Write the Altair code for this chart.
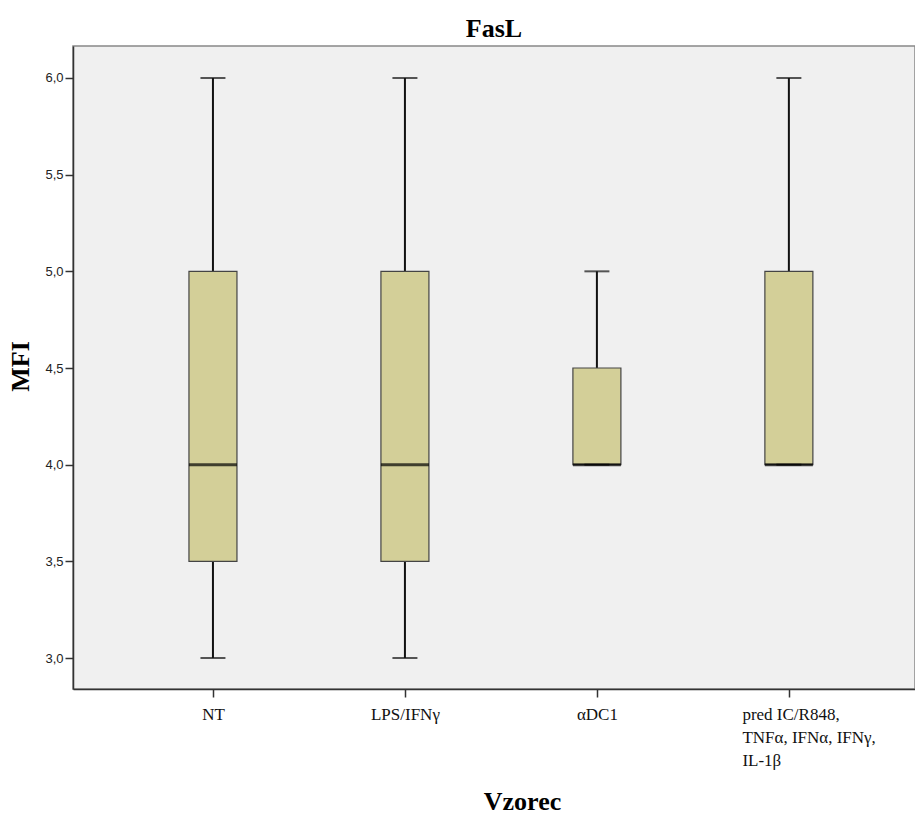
import altair as alt
import pandas as pd

categories = ["NT", "LPS/IFNγ", "αDC1", "pred IC/R848,|TNFα, IFNα, IFNγ,|IL-1β"]
minimum = [3.0, 3.0, 4.0, 4.0]
q1 = [3.5, 3.5, 4.0, 4.0]
median = [4.0, 4.0, 4.0, 4.0]
q3 = [5.0, 5.0, 4.5, 5.0]
maximum = [6.0, 6.0, 5.0, 6.0]
y_ticks = [3.0, 3.5, 4.0, 4.5, 5.0, 5.5, 6.0]

df = pd.DataFrame(dict(cat=categories, lo=minimum, q1=q1, med=median, q3=q3, hi=maximum))

W, H = 842, 643

xscale = alt.Scale(type="point", domain=categories, padding=0.693, align=0.526)
yscale = alt.Scale(domain=[2.8397, 6.1655], nice=False, zero=False)

xaxis = alt.Axis(
    title="Vzorec",
    titleFont="Liberation Serif", titleFontSize=26, titleFontWeight="bold", titleColor="#000",
    titleX=449, titleY=120, titleAlign="center", titleBaseline="alphabetic",
    labelFont="Liberation Serif", labelFontSize=17, labelColor="#111", labelAngle=0,
    labelPadding=9, labelLineHeight=23,
    labelExpr="split(datum.label, '|')",
    labelAlign={"condition": {"test": "indexof(datum.value, '|') >= 0", "value": "left"}, "value": "center"},
    labelOffset={"condition": {"test": "indexof(datum.value, '|') >= 0", "value": -47}, "value": 0},
    labelOverlap=False, labelBound=False, labelLimit=0,
    tickSize=8, tickColor="#333", tickWidth=1.5,
    domainColor="#333", domainWidth=1.5, grid=False,
)
yaxis = alt.Axis(
    title="MFI", values=y_ticks,
    labelExpr="replace(format(datum.value, '.1f'), '.', ',')",
    titleFont="Liberation Serif", titleFontSize=26, titleFontWeight="bold", titleColor="#000",
    titleX=-53, titleY=320, titleAngle=-90, titleAlign="center", titleBaseline="middle",
    labelFont="Liberation Sans", labelFontSize=13, labelColor="#222", labelPadding=2,
    tickSize=8, tickColor="#333", tickWidth=1.5,
    domainColor="#333", domainWidth=1.5, grid=False,
)

x_enc = alt.X("cat:N", scale=xscale, axis=xaxis, sort=categories)

def y_enc(field):
    return alt.Y(f"{field}:Q", scale=yscale, axis=yaxis)

base = alt.Chart(df)

whisker = base.mark_rule(color="#111", strokeWidth=2).encode(
    x=x_enc, y=y_enc("lo"), y2="hi:Q"
)
box = base.mark_bar(size=48, fill="#D3CF98", stroke="#444", strokeWidth=1.2).encode(
    x=x_enc, y=y_enc("q1"), y2="q3:Q"
)
cap_lo = base.mark_tick(size=25, thickness=2, color="#111").encode(x=x_enc, y=y_enc("lo"))
cap_hi = base.mark_tick(size=25, thickness=2, color="#111").encode(x=x_enc, y=y_enc("hi"))
med = base.mark_tick(size=48, thickness=3, color="#000").encode(x=x_enc, y=y_enc("med"))

chart = (
    alt.layer(whisker, box, cap_lo, cap_hi, med)
    .properties(
        width=W, height=H,
        title=alt.TitleParams("FasL", font="Liberation Serif", fontSize=26, fontWeight="bold",
                              color="#000", offset=4, baseline="bottom", anchor="middle", dy=26),
        padding={"left": 73, "top": 46, "right": 0, "bottom": 126},
        autosize=alt.AutoSizeParams(type="none"),
        background="white",
    )
    .configure_view(fill="#F0F0F0", stroke="#888888", strokeWidth=1.5)
)

chart.save("out.html", embed_options={"renderer": "svg", "actions": False})
